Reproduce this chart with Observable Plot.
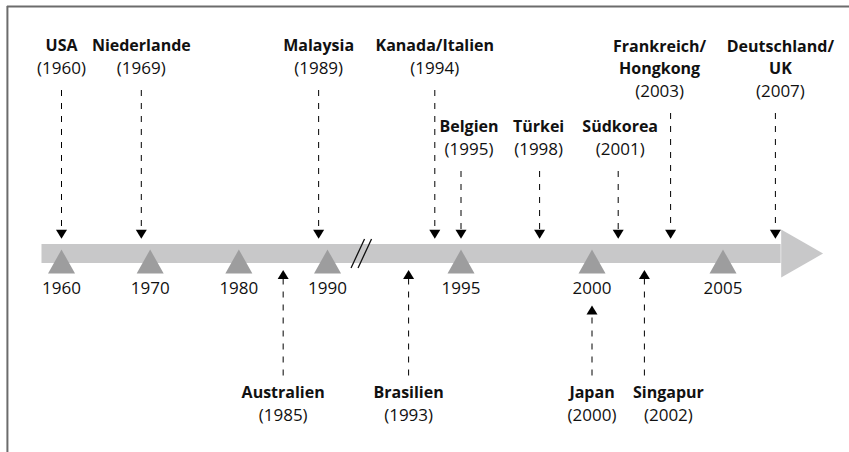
<!DOCTYPE html>
<html>
<head>
<meta charset="utf-8">
<script src="https://cdn.jsdelivr.net/npm/d3@7"></script>
<script src="https://cdn.jsdelivr.net/npm/@observablehq/plot@0.6"></script>
<style>
  html, body { margin: 0; padding: 0; background: #fff; overflow: hidden; }
  #chart { width: 849px; height: 452px; overflow: hidden; }
  #chart svg { display: block; }
</style>
</head>
<body>
<div id="chart"></div>
<script>
// ---- data ----
const countries = ["USA", "Niederlande", "Malaysia", "Kanada/Italien", "Belgien", "Türkei",
  "Südkorea", "Frankreich/\nHongkong", "Deutschland/\nUK", "Australien", "Brasilien", "Japan", "Singapur"];
const years = [1960, 1969, 1989, 1994, 1995, 1998, 2001, 2003, 2007, 1985, 1993, 2000, 2002];
const tickYears = [1960, 1970, 1980, 1990, 1995, 2000, 2005];
const breakYear = 1991.24;

// ---- layout (positions only) ----
const layout = {
  "USA": {side: "top", yearY: 68, dx: 0},
  "Niederlande": {side: "top", yearY: 68, dx: 0},
  "Malaysia": {side: "top", yearY: 68, dx: 0},
  "Kanada/Italien": {side: "top", yearY: 68, dx: 0},
  "Belgien": {side: "top", yearY: 149, dx: 8},
  "Türkei": {side: "top", yearY: 149, dx: -1},
  "Südkorea": {side: "top", yearY: 149, dx: 2},
  "Frankreich/\nHongkong": {side: "top", yearY: 91, dx: -11},
  "Deutschland/\nUK": {side: "top", yearY: 91, dx: 5},
  "Australien": {side: "bottom", yearY: 415, dx: 0, arrowY: 274},
  "Brasilien": {side: "bottom", yearY: 415, dx: 0, arrowY: 274},
  "Japan": {side: "bottom", yearY: 415, dx: 0, arrowY: 309.5},
  "Singapur": {side: "bottom", yearY: 415, dx: 24, arrowY: 274}
};
const LH = 22.5;
const BAR = {x1: 1957.8, x2: 2007.22, tip: 2008.82, y1: 244, y2: 263, hy1: 229, hy2: 277, mid: 253};
const FRAME = {x: 1953.9, xEnd: 2030, y: 6, yEnd: 470};

const events = countries.map((c, i) => ({name: c, year: years[i], lines: c.split("\n"), ...layout[c]}));
const topEv = events.filter(e => e.side === "top");
const botEv = events.filter(e => e.side === "bottom");

const tri = {draw(c) { c.moveTo(0, -12); c.lineTo(13.5, 12); c.lineTo(-13.5, 12); c.closePath(); }};
const down = {draw(c) { c.moveTo(-5.5, -4.5); c.lineTo(5.5, -4.5); c.lineTo(0, 4.5); c.closePath(); }};
const up = {draw(c) { c.moveTo(-5.5, 4.5); c.lineTo(5.5, 4.5); c.lineTo(0, -4.5); c.closePath(); }};
const slashes = {draw(c) { c.moveTo(-10.5, 14.5); c.lineTo(3, -14.5); c.moveTo(-3.5, 14.5); c.lineTo(10, -14.5); }};

const FONT = "'Open Sans', 'Noto Sans', sans-serif";
const ink = "#111";

// one pair of text marks per event so each can carry its own offset
const labelMarks = events.flatMap(e => {
  const rows = e.lines.map((t, k) => ({t, year: e.year, y: e.yearY - LH * (e.lines.length - k)}));
  return [
    Plot.text(rows, {x: "year", y: "y", text: "t", dx: e.dx, fontSize: 16, fontWeight: "bold", fill: ink}),
    Plot.text([e], {x: "year", y: "yearY", text: d => `(${d.year})`, dx: e.dx, fontSize: 17, fill: ink})
  ];
});

const chart = Plot.plot({
  width: 849, height: 452, margin: 0,
  style: {background: "#fff", fontFamily: FONT},
  x: {type: "linear", domain: [1960, 1990, 1992, 2010], range: [61, 327, 381.9, 853.5], axis: null},
  y: {type: "linear", domain: [0, 452], range: [0, 452], axis: null},
  marks: [
    // frame (only top and left edges are inside the picture)
    Plot.ruleY([FRAME], {y: "y", x1: "x", x2: "xEnd", stroke: "#6c6c6c", strokeWidth: 2}),
    Plot.ruleX([FRAME], {x: "x", y1: "y", y2: "yEnd", stroke: "#6c6c6c", strokeWidth: 2}),
    // arrow body and head
    Plot.rect([BAR], {x1: "x1", x2: "x2", y1: "y1", y2: "y2", fill: "#c8c8c9", inset: 0}),
    Plot.line([[BAR.x2, BAR.hy1], [BAR.tip, BAR.mid], [BAR.x2, BAR.hy2]], {x: d => d[0], y: d => d[1], fill: "#c8c8c9", stroke: "none"}),
    // tick triangles
    Plot.dot(tickYears, {x: d => d, y: () => 261, symbol: tri, fill: "#9d9d9e", stroke: "none"}),
    // axis break
    Plot.dot([breakYear], {x: d => d, y: () => BAR.mid, symbol: slashes, fill: "none", stroke: "#111", strokeWidth: 1.3}),
    // tick labels
    Plot.text(tickYears, {x: d => d, y: () => 288.5, text: d => String(d), fontSize: 17, fill: ink}),
    // top dashed lines + arrows
    Plot.ruleX(topEv, {x: "year", y1: d => d.yearY + 22, y2: () => 229.5, stroke: "#000", strokeWidth: 1, strokeDasharray: "6,7"}),
    Plot.dot(topEv, {x: "year", y: () => 233.8, symbol: down, fill: "#000", stroke: "none"}),
    // bottom dashed lines + arrows
    Plot.ruleX(botEv, {x: "year", y1: d => d.yearY - LH - 17, y2: d => d.arrowY + 4.5, stroke: "#000", strokeWidth: 1, strokeDasharray: "6,7"}),
    Plot.dot(botEv, {x: "year", y: "arrowY", symbol: up, fill: "#000", stroke: "none"}),
    // labels
    ...labelMarks
  ]
});
document.getElementById("chart").appendChild(chart);
</script>
</body>
</html>
